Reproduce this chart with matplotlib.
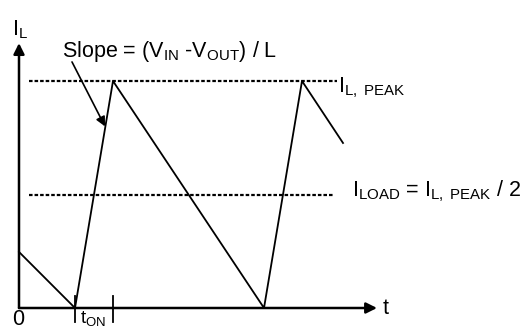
import matplotlib
matplotlib.use('Agg')
import matplotlib.pyplot as plt

plt.rcParams['font.family'] = ['Liberation Sans', 'DejaVu Sans']
plt.rcParams['mathtext.fontset'] = 'custom'
plt.rcParams['mathtext.rm'] = 'Liberation Sans'
plt.rcParams['mathtext.it'] = 'Liberation Sans'

# inductor current waveform (time in arbitrary units, current relative to I_L,PEAK)
t_wave = [0, 56, 94, 245, 283, 324]
i_wave = [0.247, 0.0, 1.0, 0.0, 1.0, 0.727]

i_peak = 1.0
i_load = 0.5
t_on = [56, 94]

fig = plt.figure(figsize=(5.28, 3.29), dpi=100)
ax = fig.add_axes([0, 0, 1, 1])
ax.set_xlim(-19, 509)
ax.set_ylim(-21 / 227, 308 / 227)
ax.axis('off')

k = dict(color='black')

# axes with arrows
ax.annotate('', xy=(358, 0), xytext=(0, 0),
            arrowprops=dict(arrowstyle='-|>', lw=1.8, color='black', mutation_scale=16, shrinkA=0, shrinkB=0))
ax.annotate('', xy=(0, 1.167), xytext=(0, 0),
            arrowprops=dict(arrowstyle='-|>', lw=1.8, color='black', mutation_scale=16, shrinkA=0, shrinkB=0))

# dotted reference levels
ax.plot([10, 318], [i_peak, i_peak], ls=(0, (1.6, 0.9)), lw=1.6, **k)
ax.plot([10, 315], [i_load, i_load], ls=(0, (1.6, 0.9)), lw=1.6, **k)

# waveform
ax.plot(t_wave, i_wave, lw=1.3, **k)

# t_on markers
for tt in t_on:
    ax.plot([tt, tt], [0.055, -0.06], lw=1.3, **k)

# slope arrow
ax.annotate('', xy=(86, 0.80), xytext=(53, 1.084),
            arrowprops=dict(arrowstyle='-|>', lw=1.2, color='black', mutation_scale=14, shrinkA=0, shrinkB=0))

fs = 15.5
ax.text(43, 1.105, r'Slope = (V$_{\rm IN}$ -V$_{\rm OUT}$) / L', fontsize=fs, ha='left', va='baseline')
ax.text(-7, 1.202, r'I$_{\rm L}$', fontsize=fs, ha='left', va='baseline')
ax.text(319, 0.95, r'I$_{\rm L,\ PEAK}$', fontsize=fs, ha='left', va='baseline')
ax.text(333, 0.5 - 0.01, r'I$_{\rm LOAD}$ = I$_{\rm L,\ PEAK}$ / 2', fontsize=fs, ha='left', va='baseline')
ax.text(364, 0, 't', fontsize=fs, ha='left', va='center')
ax.text(-1, -0.05, '0', fontsize=fs, ha='center', va='center')
ax.text(61, -20.5 / 227, r't$_{\rm ON}$', fontsize=fs - 2, ha='left', va='bottom')

fig.savefig('out.png', dpi=100)
